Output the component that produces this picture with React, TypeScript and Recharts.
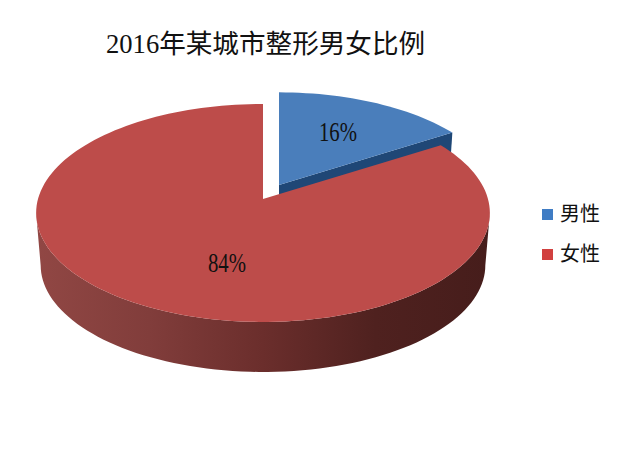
import React from "react";
import { PieChart, Pie, Legend } from "recharts";

const titleText = "2016年某城市整形男女比例";
const categories = ["男性", "女性"];
const shares = [16, 84];
const faceColors = ["#4a7ebb", "#bd4c4a"];
const legendColors = ["#3f7cc4", "#d1403f"];

const pieData = categories.map((name, i) => ({ name, value: shares[i], fill: faceColors[i] }));

// fake 3D: perspective tilt of the disc, and how far each slice is pulled out
const TILT = 0.128;
const SQUASH = 0.4764;
const DEPTH = 52.5;
const BOTTOM_SCALE = 0.98;
const sliceShift = [
  { x: 16, y: -14, scale: 0.975 },
  { x: 0, y: 0, scale: 1 },
];
const labelShift = [
  { x: 75, y: -67 },
  { x: -36, y: 64 },
];

const project = (cx: number, cy: number, r: number, deg: number) => {
  const a = (deg * Math.PI) / 180;
  const u = Math.cos(a);
  const v = Math.sin(a);
  const w = 1 + TILT * v;
  return [cx + (r * u) / w, cy - (r * SQUASH * v) / w];
};

const toPath = (pts: number[][]) =>
  pts.map((p, i) => `${i ? "L" : "M"}${p[0].toFixed(2)} ${p[1].toFixed(2)}`).join(" ");

const Slice3D = (props: any) => {
  const { cx, cy, outerRadius, startAngle, endAngle, fill, name } = props;
  const idx = categories.indexOf(name);
  const shift = sliceShift[idx];
  const ax = cx + shift.x;
  const ay = cy + shift.y;
  const r = outerRadius * shift.scale;

  const steps = Math.ceil(Math.abs(startAngle - endAngle) / 2);
  const angles = Array.from({ length: steps + 1 }, (_, i) => startAngle + ((endAngle - startAngle) * i) / steps);
  const topArc = angles.map((d) => project(ax, ay, r, d));
  const bottomAt = (d: number) => project(ax, ay + DEPTH, r * BOTTOM_SCALE, d);

  // only the front of the rim shows, so stop where the outline turns away
  const frontAngles = angles.filter((d) => Math.sin((d * Math.PI) / 180) < -TILT);
  const frontTop = frontAngles.map((d) => project(ax, ay, r, d));
  const frontBottom = frontAngles.map(bottomAt).reverse();

  const tip = topArc[topArc.length - 1];
  const tipLow = bottomAt(endAngle);

  return (
    <g>
      <defs>
        <linearGradient id="redSide" gradientUnits="userSpaceOnUse" x1="36" y1="0" x2="489" y2="0">
          <stop offset="0" stopColor="#914744" />
          <stop offset="0.25" stopColor="#813d3b" />
          <stop offset="0.5" stopColor="#6b2e2c" />
          <stop offset="0.75" stopColor="#4f211f" />
          <stop offset="1" stopColor="#461d1b" />
        </linearGradient>
      </defs>
      {idx === 0 ? (
        <path d={`${toPath([[ax, ay], tip, tipLow, [ax, ay + DEPTH]])} Z`} fill="#1f4776" />
      ) : (
        <path d={`${toPath([...frontTop, ...frontBottom])} Z`} fill="url(#redSide)" />
      )}
      <path d={`${toPath([[ax, ay], ...topArc])} Z`} fill={fill} />
    </g>
  );
};

const PercentLabel = (props: any) => {
  const { cx, cy, name, percent } = props;
  const shift = labelShift[categories.indexOf(name)];
  return (
    <text
      x={cx + shift.x - 19}
      y={cy + shift.y}
      dominantBaseline="central"
      fontFamily="'Liberation Serif', serif"
      fontSize={27}
      textLength={38}
      lengthAdjust="spacingAndGlyphs"
      fill="#111"
    >
      {`${Math.round(percent * 100)}%`}
    </text>
  );
};

const LegendBox = ({ payload }: any) => (
  <div style={{ fontFamily: "'Noto Sans CJK SC', sans-serif", fontSize: 20, color: "#111" }}>
    {(payload || []).map((entry: any) => (
      <div key={entry.value} style={{ display: "flex", alignItems: "center", height: 40 }}>
        <span
          style={{
            width: 11,
            height: 11,
            marginRight: 7,
            background: legendColors[categories.indexOf(entry.value)],
          }}
        />
        <span style={{ position: "relative", top: -2 }}>{entry.value}</span>
      </div>
    ))}
  </div>
);

export default function App() {
  return (
    <div style={{ position: "absolute", left: 0, top: 0, width: 640, height: 459, background: "#fff" }}>
      <PieChart width={640} height={459} margin={{ top: 0, right: 0, bottom: 0, left: 0 }}>
        <text
          x={106}
          y={44}
          dominantBaseline="central"
          fontFamily="'Liberation Serif', 'Noto Sans CJK SC', serif"
          fontSize={26.6}
          fill="#111"
        >
          {titleText}
        </text>
        <Pie
          data={pieData}
          dataKey="value"
          nameKey="name"
          cx={263}
          cy={199}
          outerRadius={225}
          startAngle={90}
          endAngle={-270}
          paddingAngle={0}
          stroke="none"
          shape={Slice3D}
          label={PercentLabel}
          labelLine={false}
          isAnimationActive={false}
        />
        <Legend
          layout="vertical"
          itemSorter={null}
          content={LegendBox}
          wrapperStyle={{ position: "absolute", left: 542, top: 194, width: 90, right: "auto", bottom: "auto" }}
        />
      </PieChart>
    </div>
  );
}
